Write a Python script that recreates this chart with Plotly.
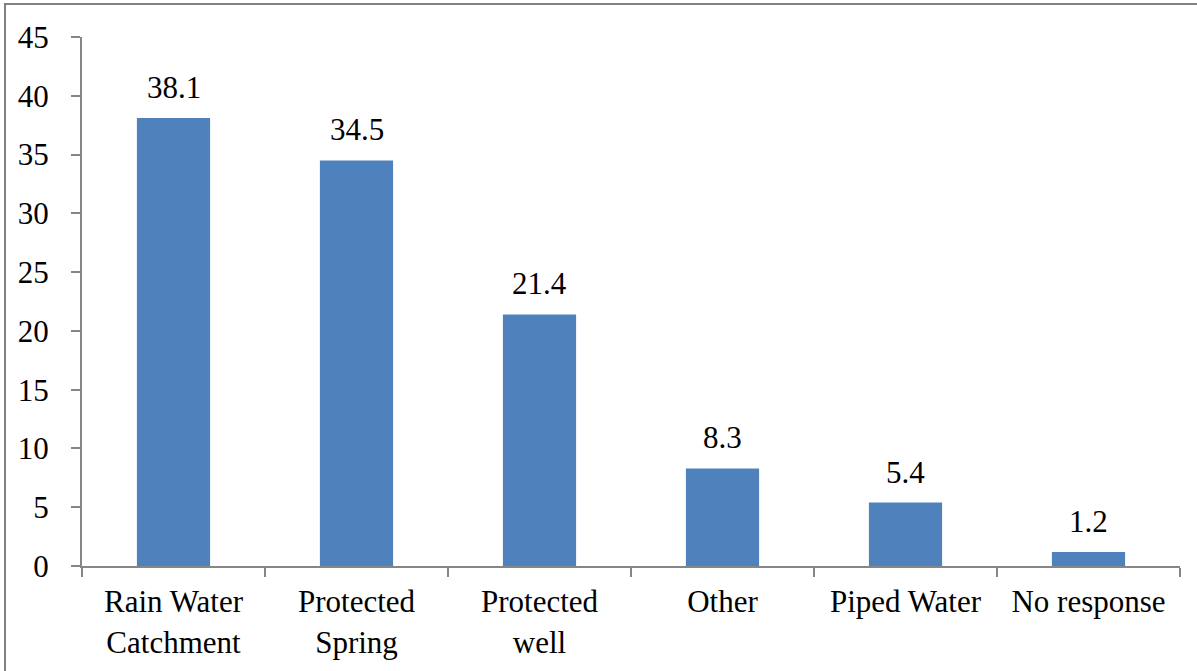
import plotly.graph_objects as go

categories = ["Rain Water<br>Catchment", "Protected<br>Spring", "Protected<br>well",
              "Other", "Piped Water", "No response"]
values = [38.1, 34.5, 21.4, 8.3, 5.4, 1.2]
y_ticks = [0, 5, 10, 15, 20, 25, 30, 35, 40, 45]

W, H = 1197, 671
L, R, T, B = 82, 17, 37, 105
pw, ph = W - L - R, H - T - B

font = dict(family="'Times New Roman', 'Liberation Serif', 'DejaVu Serif', serif",
            size=31, color="#000000")
axis_col = "#868686"

fig = go.Figure()
fig.add_trace(go.Bar(
    x=categories, y=values,
    marker=dict(color="#4F81BD", line=dict(width=0)),
    width=0.4,
))

# value labels above each bar
for c, v in zip(categories, values):
    fig.add_annotation(x=c, y=v, text=f"{v}", showarrow=False,
                       yanchor="bottom", yshift=11, font=font)

# outer frame around the chart
fig.add_shape(type="rect", xref="paper", yref="paper",
              x0=(5 - L) / pw, x1=(W + 5 - L) / pw,
              y0=-(H + 10 - T - ph) / ph, y1=(T - 4) / ph + 1,
              line=dict(color="#808080", width=2))

fig.update_layout(
    width=W, height=H,
    margin=dict(l=L, r=R, t=T, b=B),
    paper_bgcolor="white", plot_bgcolor="white",
    showlegend=False,
    font=font,
    bargap=0.6,
    xaxis=dict(
        type="category", showgrid=False, showline=True, linecolor=axis_col, linewidth=2,
        ticks="outside", tickson="boundaries", ticklen=9, tickcolor=axis_col, tickwidth=2,
        tickfont=font, ticklabelstandoff=7,
    ),
    yaxis=dict(
        range=[0, 45], tickvals=y_ticks, showgrid=False, zeroline=False,
        showline=True, linecolor=axis_col, linewidth=2,
        ticks="outside", ticklen=9, tickcolor=axis_col, tickwidth=2,
        tickfont=font, ticklabelstandoff=16,
    ),
)

fig.write_html("out.html")
